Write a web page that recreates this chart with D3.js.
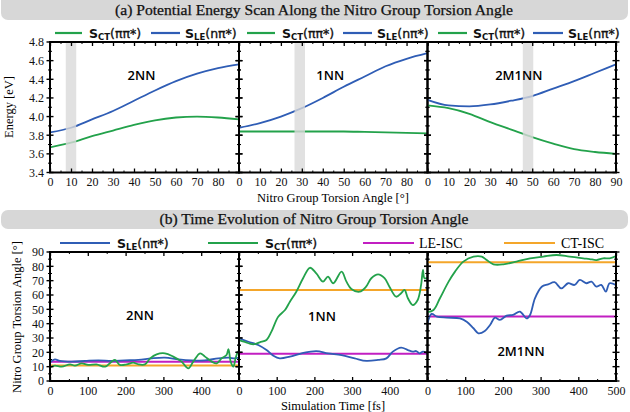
<!DOCTYPE html>
<html><head><meta charset="utf-8">
<script src="https://cdn.jsdelivr.net/npm/d3@7"></script>
<style>body{margin:0;background:#fff}svg{display:block}</style>
</head><body><svg id="c" width="630" height="412"></svg>
<script>
// ---------------- DATA ----------------
const molecules = ["2NN", "1NN", "2M1NN"];
const scanAngles = [0, 10, 20, 30, 40, 50, 60, 70, 80, 90];
const scanCT_2NN   = [3.67, 3.72, 3.79, 3.85, 3.91, 3.96, 3.99, 4.00, 3.99, 3.97];
const scanLE_2NN   = [3.83, 3.88, 3.97, 4.06, 4.17, 4.28, 4.38, 4.46, 4.52, 4.56];
const scanCT_1NN   = [3.84, 3.84, 3.84, 3.84, 3.84, 3.84, 3.835, 3.83, 3.825, 3.82];
const scanLE_1NN   = [3.88, 3.93, 4.00, 4.09, 4.20, 4.32, 4.43, 4.54, 4.62, 4.68];
const scanCT_2M1NN = [4.12, 4.09, 4.03, 3.94, 3.86, 3.78, 3.71, 3.65, 3.62, 3.60];
const scanLE_2M1NN = [4.18, 4.12, 4.11, 4.13, 4.17, 4.22, 4.30, 4.38, 4.47, 4.56];
const iscBands = [[7.5, 12.5], [26.5, 31.5], [45.5, 50.5]];
const energyTicks = [3.4, 3.6, 3.8, 4.0, 4.2, 4.4, 4.6, 4.8];

// time evolution [fs, degrees]
const tdLE_2NN = [[0,13],[13,15.1],[26,14],[57,13.5],[93,14],[128,14.4],[163,14],[198,14.4],[234,14.7],[269,15.8],[304,16.3],[340,15.1],[375,14.4],[410,14.4],[445,15.8],[472,16.3],[489,15.8],[500,16.3]];
const tdCT_2NN = [[0,9.5],[13,10.7],[31,10],[53,11.6],[66,10.7],[84,12.3],[101,11.2],[123,11.6],[146,10],[163,13.5],[172,14.7],[185,11.2],[203,11.6],[220,12.8],[234,11.6],[251,11.6],[265,15.8],[282,18.6],[304,19.3],[326,17],[348,13.5],[366,8.8],[379,13.5],[397,19.3],[410,17],[428,13.5],[441,12.3],[454,15.8],[467,18.1],[472,22.3],[478,13.5],[485,10],[491,15.8],[497,20.5],[500,18]];
const tdLE_1NN = [[0,29.8],[25,27.4],[51,25.1],[73,21.6],[91,17.7],[108,15.8],[135,17],[166,19.3],[205,20.9],[236,19.3],[272,18.1],[307,15.8],[338,14],[369,14.7],[391,15.8],[408,20.5],[430,23.3],[448,21.6],[461,20.5],[470,20.9],[479,19.3],[488,20.5],[500,19.3]];
const tdCT_1NN = [[0,28.6],[13,27.4],[38,25.6],[55,27],[73,28.6],[86,34.4],[104,44.9],[122,49.5],[135,55.3],[152,62.3],[170,71.7],[188,79],[205,75.1],[223,69.3],[236,72.8],[250,68.2],[272,76.3],[285,69.3],[298,64.2],[320,62.3],[337,65.8],[351,71.7],[369,74.4],[386,71.7],[399,65.8],[417,58.8],[430,61.2],[439,63.5],[448,57.7],[461,53],[474,56.5],[483,67],[488,77.5],[492,71.7],[500,72]];
const tdLE_2M1NN = [[0,40.3],[11,46.8],[25,44.9],[51,44.2],[86,43.7],[104,41.4],[122,36.8],[135,33.3],[152,34.9],[166,39.1],[179,44.2],[192,42.6],[210,45.6],[227,46.1],[245,48.4],[263,43.7],[272,46.1],[285,57.7],[303,65.8],[320,67.4],[337,68.9],[355,64.6],[373,68.2],[390,67],[404,70.5],[421,68.2],[435,69.3],[448,65.8],[461,67],[473,62.3],[483,68.2],[500,67]];
const tdCT_2M1NN = [[0,48],[16,49.5],[33,57.7],[56,69.3],[73,76.3],[95,83.3],[122,86.8],[144,86.8],[157,84.4],[175,81.4],[201,81.4],[236,83.3],[272,85.6],[307,86.8],[342,87.9],[377,86.8],[413,85.6],[430,85.1],[448,84.4],[466,85.6],[483,85.6],[500,87.2]];
const leISC = [13.5, 19, 45];
const ctISC = [10.8, 63.5, 82.8];
const angleTicks = [0, 10, 20, 30, 40, 50, 60, 70, 80, 90];

// ---------------- STYLE ----------------
const C = {green: "#23a24b", blue: "#2f5db5", magenta: "#c21fc2", orange: "#f4a62a", band: "#dadada", header: "#d7d7d7"};
const serif = "'Liberation Serif', 'Times New Roman', serif";
const sans = "'DejaVu Sans', sans-serif";

const svg = d3.select("#c");
const panelX = [50, 239, 427.5, 616];

// headers
function header(y, h, text, ty, w) {
  svg.append("rect").attr("x", 1).attr("y", y).attr("width", 627).attr("height", h).attr("rx", 7).attr("fill", C.header);
  svg.append("text").attr("x", 314).attr("y", ty).attr("text-anchor", "middle")
    .attr("font-family", serif).attr("font-size", 14.5).attr("fill", "#111")
    .attr("stroke", "#111").attr("stroke-width", 0.25)
    .attr("textLength", w).attr("lengthAdjust", "spacingAndGlyphs").text(text);
}
header(-6, 26, "(a) Potential Energy Scan Along the Nitro Group Torsion Angle", 15, 398);
header(210, 19, "(b) Time Evolution of Nitro Group Torsion Angle", 224, 309);

// legend helpers
function sLabel(g, x, y, sub, paren) {
  const t = g.append("text").attr("x", x).attr("y", y).attr("font-family", sans).attr("font-weight", "bold").attr("font-size", 12.5).attr("fill", "#111");
  t.append("tspan").text("S");
  t.append("tspan").attr("font-size", 8.5).attr("dy", 2.5).text(sub);
  t.append("tspan").attr("dy", -2.5).attr("font-weight", "normal").attr("stroke", "#111").attr("stroke-width", 0.35).text(paren);
}
function legLine(x1, x2, y, col) {
  svg.append("line").attr("x1", x1).attr("x2", x2).attr("y1", y).attr("y2", y).attr("stroke", col).attr("stroke-width", 2.2);
}
// top legend
const topLeg = [[55, 82, 89, "CT", "(ππ*)", C.green], [151, 180, 185, "LE", "(nπ*)", C.blue],
                [247, 275, 282, "CT", "(ππ*)", C.green], [343, 372, 377, "LE", "(nπ*)", C.blue],
                [438, 467, 473, "CT", "(ππ*)", C.green], [533, 563, 568, "LE", "(nπ*)", C.blue]];
topLeg.forEach(d => { legLine(d[0], d[1], 33, d[5]); sLabel(svg, d[2], 37.5, d[3], d[4]); });
// bottom legend
legLine(60, 110, 243, C.blue); sLabel(svg, 117, 247.5, "LE", "(nπ*)");
legLine(208, 258, 243, C.green); sLabel(svg, 265, 247.5, "CT", "(ππ*)");
legLine(363, 414, 243, C.magenta);
svg.append("text").attr("x", 419).attr("y", 248).attr("font-family", serif).attr("font-size", 14).text("LE-ISC");
legLine(504, 555, 243, C.orange);
svg.append("text").attr("x", 561).attr("y", 248).attr("font-family", serif).attr("font-size", 14).text("CT-ISC");

// ---------------- TOP PANELS ----------------
const yTop = d3.scaleLinear().domain([3.4, 4.8]).range([172.5, 42]);
const scanCT = [scanCT_2NN, scanCT_1NN, scanCT_2M1NN];
const scanLE = [scanLE_2NN, scanLE_1NN, scanLE_2M1NN];

function frameTicks(g, x, y, xMaj, xMin, yMaj, yMin, labelsX, labelsY) {
  const [x0, x1] = x.range(); const [y0, y1] = y.range();
  // bottom axis
  const ab = g.append("g").attr("transform", `translate(0,${y0})`)
    .call(d3.axisBottom(x).tickValues(labelsX).tickSizeInner(-4).tickSizeOuter(0).tickPadding(5));
  ab.select(".domain").remove();
  ab.selectAll("text").attr("font-family", serif).attr("font-size", 12).attr("fill", "#111");
  ab.selectAll("line").attr("stroke-width", 1.3);
  const am = g.append("g").attr("transform", `translate(0,${y0})`)
    .call(d3.axisBottom(x).tickValues(xMin).tickSizeInner(-2).tickSizeOuter(0).tickFormat(""));
  am.select(".domain").remove(); am.selectAll("line").attr("stroke-width", 1);
  // top axis
  [[xMaj, -4], [xMin, -2]].forEach(([v, s]) => {
    const at = g.append("g").attr("transform", `translate(0,${y1})`)
      .call(d3.axisTop(x).tickValues(v).tickSizeInner(s).tickSizeOuter(0).tickFormat(""));
    at.select(".domain").remove(); at.selectAll("line").attr("stroke-width", s === -4 ? 1.3 : 1);
  });
  // left/right crossing ticks
  [x0, x1].forEach(xx => {
    [[yMaj, 3.5, 1.4], [yMin, 2, 1]].forEach(([v, s, w]) => {
      g.append("g").selectAll("line").data(v).join("line")
        .attr("x1", xx - s).attr("x2", xx + s).attr("y1", d => y(d)).attr("y2", d => y(d))
        .attr("stroke", "#000").attr("stroke-width", w);
    });
  });
  g.append("rect").attr("x", x0).attr("y", y1).attr("width", x1 - x0).attr("height", y0 - y1)
    .attr("fill", "none").attr("stroke", "#000").attr("stroke-width", 2);
  if (labelsY) {
    const al = g.append("g").attr("transform", `translate(${x0},0)`)
      .call(d3.axisLeft(y).tickValues(labelsY).tickSize(0).tickPadding(6).tickFormat(d3.format(Number.isInteger(labelsY[1]) ? "d" : ".1f")));
    al.select(".domain").remove();
    al.selectAll("text").attr("font-family", serif).attr("font-size", 12).attr("fill", "#111");
  }
}

const energyMinor = d3.range(3.5, 4.8, 0.2);
molecules.forEach((m, i) => {
  const g = svg.append("g");
  const x = d3.scaleLinear().domain([0, 90]).range([panelX[i], panelX[i + 1]]);
  const clipId = "ct" + i;
  g.append("clipPath").attr("id", clipId).append("rect").attr("x", panelX[i]).attr("y", 42).attr("width", panelX[i + 1] - panelX[i]).attr("height", 130.5);
  const pg = g.append("g").attr("clip-path", `url(#${clipId})`);
  const line = d3.line().x((d, k) => x(scanAngles[k])).y(d => yTop(d)).curve(d3.curveMonotoneX);
  pg.append("path").attr("d", line(scanCT[i])).attr("fill", "none").attr("stroke", C.green).attr("stroke-width", 1.8);
  pg.append("path").attr("d", line(scanLE[i])).attr("fill", "none").attr("stroke", C.blue).attr("stroke-width", 1.8);
  pg.append("rect").attr("x", x(iscBands[i][0])).attr("width", x(iscBands[i][1]) - x(iscBands[i][0]))
    .attr("y", 43).attr("height", 129).attr("fill", C.band).attr("opacity", 0.8);
  g.append("text").attr("x", (x(0) + x(90)) / 2 - 3).attr("y", 80).attr("text-anchor", "middle")
    .attr("font-family", "'Open Sans', sans-serif").attr("font-weight", 600).attr("font-size", 13).text(m);
  const labs = i === 2 ? angleTicks : angleTicks.slice(0, 9);
  frameTicks(g, x, yTop, angleTicks, d3.range(5, 90, 10), energyTicks, energyMinor, labs, i === 0 ? energyTicks : null);
});
svg.append("text").attr("x", 333).attr("y", 201.5).attr("text-anchor", "middle").attr("font-family", serif).attr("font-size", 12.5).text("Nitro Group Torsion Angle [°]");
svg.append("text").attr("transform", "translate(13,107) rotate(-90)").attr("text-anchor", "middle").attr("font-family", serif).attr("font-size", 12.5).text("Energy [eV]");

// ---------------- BOTTOM PANELS ----------------
const yBot = d3.scaleLinear().domain([0, 90]).range([381, 252]);
const tdLE = [tdLE_2NN, tdLE_1NN, tdLE_2M1NN];
const tdCT = [tdCT_2NN, tdCT_1NN, tdCT_2M1NN];
const timeTicks = [0, 100, 200, 300, 400, 500];
const angleTicksB = [0, 10, 20, 30, 40, 50, 60, 70, 80, 90];
const labelPos = [[140, 320], [322, 321], [521, 356]];
molecules.forEach((m, i) => {
  const g = svg.append("g");
  const x = d3.scaleLinear().domain([0, 500]).range([panelX[i], panelX[i + 1]]);
  const clipId = "cb" + i;
  g.append("clipPath").attr("id", clipId).append("rect").attr("x", panelX[i]).attr("y", 252).attr("width", panelX[i + 1] - panelX[i]).attr("height", 129);
  const pg = g.append("g").attr("clip-path", `url(#${clipId})`);
  const hl = (v, col) => pg.append("line").attr("x1", x(0)).attr("x2", x(500)).attr("y1", yBot(v)).attr("y2", yBot(v)).attr("stroke", col).attr("stroke-width", 2);
  hl(ctISC[i], C.orange);
  hl(leISC[i], C.magenta);
  const line = d3.line().x(d => x(d[0])).y(d => yBot(d[1])).curve(d3.curveCatmullRom.alpha(0.5));
  pg.append("path").attr("d", line(tdLE[i])).attr("fill", "none").attr("stroke", C.blue).attr("stroke-width", 1.8);
  pg.append("path").attr("d", line(tdCT[i])).attr("fill", "none").attr("stroke", C.green).attr("stroke-width", 1.8);
  g.append("text").attr("x", labelPos[i][0]).attr("y", labelPos[i][1]).attr("text-anchor", "middle")
    .attr("font-family", "'Open Sans', sans-serif").attr("font-weight", 600).attr("font-size", 13).text(m);
  const labs = i === 2 ? timeTicks : timeTicks.slice(0, 5);
  frameTicks(g, x, yBot, timeTicks, d3.range(50, 500, 100), angleTicksB, d3.range(5, 90, 10), labs, i === 0 ? angleTicksB : null);
});
svg.append("text").attr("x", 333).attr("y", 410).attr("text-anchor", "middle").attr("font-family", serif).attr("font-size", 12.5).text("Simulation Time [fs]");
svg.append("text").attr("transform", "translate(21,317) rotate(-90)").attr("text-anchor", "middle").attr("font-family", serif).attr("font-size", 12.5).text("Nitro Group Torsion Angle [°]");
</script></body></html>
